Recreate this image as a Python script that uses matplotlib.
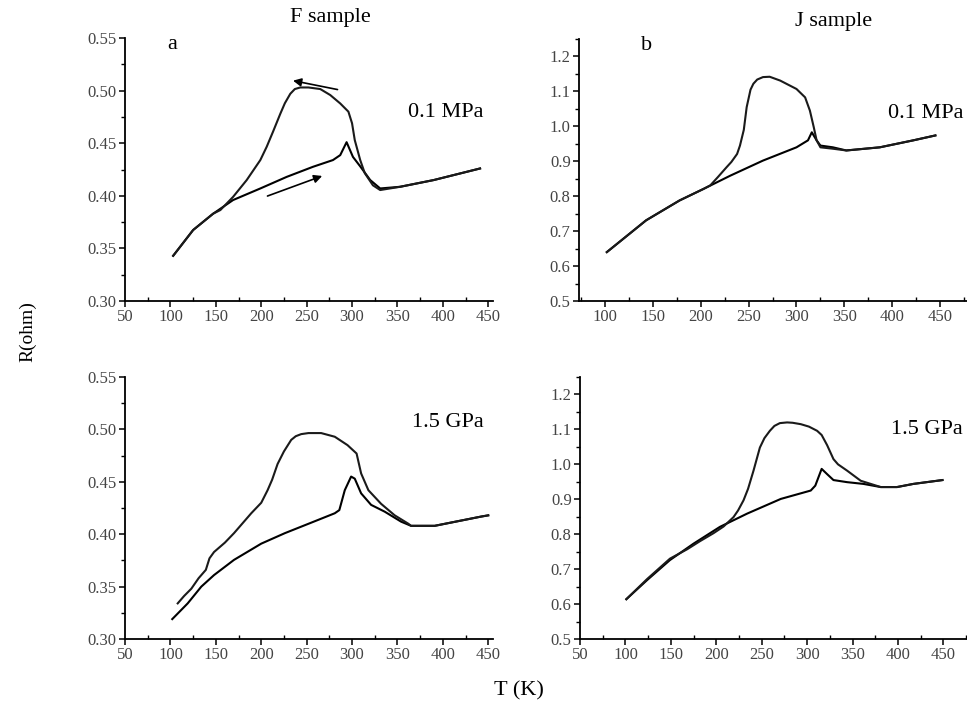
import numpy as np
import matplotlib
matplotlib.use('Agg')
import matplotlib.pyplot as plt
from matplotlib.ticker import MultipleLocator, FormatStrFormatter

plt.rcParams['font.family'] = ['Liberation Serif', 'DejaVu Serif']

# ---- F sample, 0.1 MPa ----
f1_heat_T = [103, 125, 147, 169, 199, 228, 257, 279, 287, 294, 301, 309, 320, 331, 353, 390, 441]
f1_heat_R = [0.343, 0.3675, 0.383, 0.396, 0.407, 0.418, 0.4276, 0.434, 0.4387, 0.451, 0.437, 0.428, 0.415, 0.407, 0.4086, 0.415, 0.426]
f1_cool_T = [441, 390, 353, 331, 323, 314, 309, 303, 300, 296, 287, 276, 265, 252, 243, 237, 232, 226, 221, 213, 206, 199, 184, 169, 155, 147, 125, 103]
f1_cool_R = [0.426, 0.415, 0.4086, 0.4055, 0.410, 0.4216, 0.434, 0.453, 0.469, 0.480, 0.4878, 0.4958, 0.5015, 0.503, 0.503, 0.5015, 0.497, 0.488, 0.478, 0.461, 0.4466, 0.434, 0.415, 0.399, 0.3865, 0.383, 0.3675, 0.343]

# ---- J sample, 0.1 MPa ----
j1_heat_T = [102, 143, 178, 203, 231, 265, 300, 312, 316, 321, 325, 338, 352, 387, 422, 445]
j1_heat_R = [0.640, 0.731, 0.788, 0.821, 0.859, 0.902, 0.940, 0.960, 0.983, 0.960, 0.945, 0.940, 0.931, 0.940, 0.960, 0.974]
j1_cool_T = [445, 422, 387, 352, 338, 325, 321, 318, 314, 309, 300, 283, 272, 265, 259, 255, 252, 248, 245, 241, 238, 232, 227, 218, 210, 203, 178, 143, 102]
j1_cool_R = [0.974, 0.960, 0.940, 0.931, 0.936, 0.940, 0.960, 0.998, 1.045, 1.083, 1.107, 1.131, 1.142, 1.141, 1.134, 1.122, 1.105, 1.055, 0.990, 0.945, 0.921, 0.898, 0.883, 0.855, 0.831, 0.821, 0.788, 0.731, 0.640]

# ---- F sample, 1.5 GPa ----
f2_heat_T = [102, 119, 134, 148, 170, 200, 226, 255, 281, 286, 292, 299, 303, 310, 321, 336, 354, 365, 391, 442, 450]
f2_heat_R = [0.319, 0.334, 0.350, 0.361, 0.3755, 0.391, 0.401, 0.411, 0.420, 0.423, 0.442, 0.455, 0.453, 0.439, 0.428, 0.4215, 0.412, 0.408, 0.408, 0.4168, 0.418]
f2_cool_T = [450, 442, 391, 365, 362, 347, 332, 318, 310, 305, 295, 281, 266, 252, 244, 238, 233, 225, 218, 212, 207, 200, 189, 180, 170, 160, 148, 143, 139, 131, 123, 115, 108]
f2_cool_R = [0.418, 0.4168, 0.408, 0.408, 0.410, 0.418, 0.429, 0.442, 0.458, 0.477, 0.485, 0.493, 0.4965, 0.4965, 0.4955, 0.4935, 0.490, 0.479, 0.467, 0.452, 0.442, 0.430, 0.420, 0.411, 0.401, 0.392, 0.383, 0.377, 0.366, 0.358, 0.348, 0.341, 0.334]

# ---- J sample, 1.5 GPa ----
j2_heat_T = [101, 124, 149, 175, 204, 234, 271, 304, 309, 316, 322, 329, 344, 362, 381, 399, 417, 449]
j2_heat_R = [0.614, 0.669, 0.726, 0.773, 0.821, 0.859, 0.901, 0.925, 0.939, 0.987, 0.972, 0.955, 0.949, 0.944, 0.935, 0.935, 0.944, 0.955]
j2_cool_T = [449, 417, 399, 381, 359, 344, 334, 329, 322, 316, 311, 302, 293, 284, 278, 270, 264, 259, 253, 248, 241, 235, 230, 224, 219, 208, 197, 182, 168, 149, 124, 101]
j2_cool_R = [0.955, 0.944, 0.935, 0.935, 0.953, 0.982, 1.000, 1.015, 1.055, 1.084, 1.096, 1.108, 1.115, 1.119, 1.120, 1.118, 1.110, 1.096, 1.075, 1.048, 0.982, 0.930, 0.897, 0.868, 0.849, 0.822, 0.803, 0.780, 0.757, 0.730, 0.672, 0.614]

fig = plt.figure(figsize=(9.67, 7.12), dpi=100)

ax_tl = fig.add_axes([0.1293, 0.5772, 0.3803, 0.3694])
ax_tr = fig.add_axes([0.5988, 0.5772, 0.4012, 0.3680])
ax_bl = fig.add_axes([0.1293, 0.1025, 0.3803, 0.3680])
ax_br = fig.add_axes([0.5998, 0.1025, 0.4002, 0.3680])

panels = [
    (ax_tl, f1_heat_T, f1_heat_R, f1_cool_T, f1_cool_R, (50, 455), (0.30, 0.55), 0.05, '%.2f'),
    (ax_tr, j1_heat_T, j1_heat_R, j1_cool_T, j1_cool_R, (73, 478), (0.5, 1.25), 0.1, '%.1f'),
    (ax_bl, f2_heat_T, f2_heat_R, f2_cool_T, f2_cool_R, (50, 455), (0.30, 0.55), 0.05, '%.2f'),
    (ax_br, j2_heat_T, j2_heat_R, j2_cool_T, j2_cool_R, (50, 476), (0.5, 1.25), 0.1, '%.1f'),
]

for ax, hT, hR, cT, cR, xl, yl, ystep, fmt in panels:
    ax.plot(hT, hR, color='black', lw=1.5, solid_joinstyle='round')
    ax.plot(cT, cR, color='#1a1a1a', lw=1.5, solid_joinstyle='round')
    ax.set_xlim(*xl)
    ax.set_ylim(*yl)
    ax.spines['top'].set_visible(False)
    ax.spines['right'].set_visible(False)
    ax.spines['left'].set_linewidth(1.3)
    ax.spines['bottom'].set_linewidth(1.3)
    ax.xaxis.set_major_locator(MultipleLocator(50))
    ax.xaxis.set_minor_locator(MultipleLocator(25))
    ax.yaxis.set_major_locator(MultipleLocator(ystep))
    ax.yaxis.set_minor_locator(MultipleLocator(ystep / 2))
    ax.yaxis.set_major_formatter(FormatStrFormatter(fmt))
    ax.tick_params(which='major', direction='out', length=4, width=1.1,
                   labelsize=12, labelcolor='#444444', pad=2)
    ax.tick_params(axis='x', which='minor', direction='in', length=3, width=1.0)
    ax.tick_params(axis='y', which='minor', direction='out', length=3, width=1.0)

# the top right panel starts its labels at 100
ax_tr.set_xticks([100, 150, 200, 250, 300, 350, 400, 450])

# labels inside panels
ax_tl.text(0.115, 0.975, 'a', transform=ax_tl.transAxes, fontsize=16, va='center')
ax_tr.text(0.16, 0.977, 'b', transform=ax_tr.transAxes, fontsize=16, va='center')
ax_tl.text(0.975, 0.715, '0.1 MPa', transform=ax_tl.transAxes, fontsize=16, ha='right', va='center')
ax_tr.text(0.99, 0.717, '0.1 MPa', transform=ax_tr.transAxes, fontsize=16, ha='right', va='center')
ax_bl.text(0.975, 0.828, '1.5 GPa', transform=ax_bl.transAxes, fontsize=16, ha='right', va='center')
ax_br.text(0.99, 0.80, '1.5 GPa', transform=ax_br.transAxes, fontsize=16, ha='right', va='center')

# heating / cooling arrows
ax_tl.annotate('', xy=(232, 0.510), xytext=(287, 0.5005),
               arrowprops=dict(arrowstyle='-|>', color='black', lw=1.2, mutation_scale=12))
ax_tl.annotate('', xy=(270, 0.4198), xytext=(204, 0.3989),
               arrowprops=dict(arrowstyle='-|>', color='black', lw=1.2, mutation_scale=12))

fig.text(0.342, 0.975, 'F sample', fontsize=16, ha='center', va='center')
fig.text(0.862, 0.970, 'J sample', fontsize=16, ha='center', va='center')
fig.text(0.029, 0.535, 'R(ohm)', fontsize=14, rotation=90, ha='center', va='center')
fig.text(0.537, 0.030, 'T (K)', fontsize=16, ha='center', va='center')

fig.savefig('out.png', dpi=100)
